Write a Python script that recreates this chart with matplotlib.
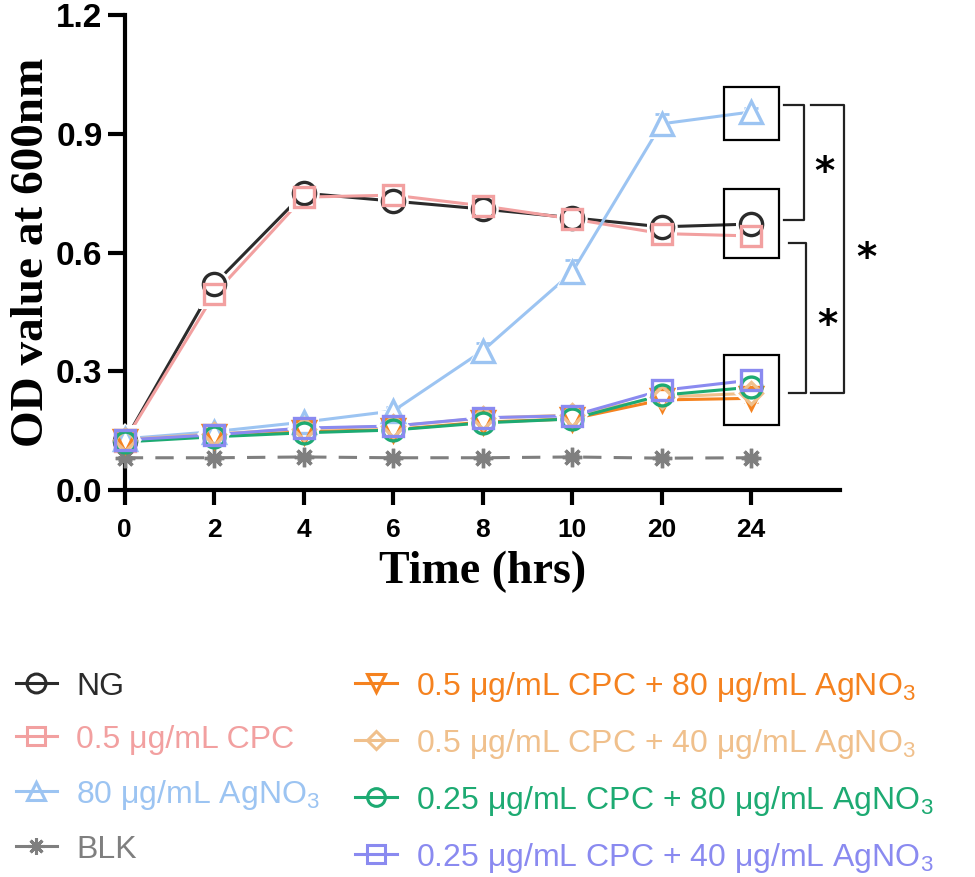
import matplotlib
matplotlib.use("Agg")
import matplotlib.pyplot as plt
from matplotlib.patches import Rectangle

# data (OD600 vs time)
times = ['0', '2', '4', '6', '8', '10', '20', '24']
ng = [0.125, 0.52, 0.75, 0.73, 0.71, 0.688, 0.665, 0.672]
ng_err = [0.01, 0.01, 0.02, 0.01, 0.01, 0.01, 0.02, 0.01]
cpc = [0.125, 0.495, 0.74, 0.745, 0.718, 0.685, 0.648, 0.642]
cpc_err = [0.01, 0.01, 0.01, 0.01, 0.01, 0.01, 0.01, 0.01]
ag = [0.13, 0.148, 0.172, 0.2, 0.352, 0.55, 0.925, 0.955]
ag_err = [0.01, 0.01, 0.01, 0.01, 0.02, 0.03, 0.025, 0.01]
blk = [0.082, 0.082, 0.084, 0.082, 0.082, 0.084, 0.081, 0.082]
blk_err = [0.005] * 8
c5_a80 = [0.125, 0.137, 0.148, 0.153, 0.172, 0.18, 0.228, 0.232]
c5_a40 = [0.128, 0.142, 0.155, 0.162, 0.182, 0.19, 0.235, 0.245]
c25_a80 = [0.122, 0.135, 0.145, 0.152, 0.17, 0.18, 0.24, 0.26]
c25_a40 = [0.127, 0.14, 0.157, 0.162, 0.183, 0.188, 0.252, 0.278]
small_err = [0.008] * 8

labels = ['NG', '0.5 μg/mL CPC', '80 μg/mL AgNO$_3$', 'BLK',
          '0.5 μg/mL CPC + 80 μg/mL AgNO$_3$', '0.5 μg/mL CPC + 40 μg/mL AgNO$_3$',
          '0.25 μg/mL CPC + 80 μg/mL AgNO$_3$', '0.25 μg/mL CPC + 40 μg/mL AgNO$_3$']
series = [ng, cpc, ag, blk, c5_a80, c5_a40, c25_a80, c25_a40]
errs = [ng_err, cpc_err, ag_err, blk_err, small_err, small_err, small_err, small_err]
colors = ['#2b2b2b', '#f2a0a0', '#9cc4f2', '#7f7f7f',
          '#f5821f', '#f0c08c', '#1daa72', '#8a8af0']
markers = ['o', 's', '^', (8, 2, 0), 'v', 'D', 'o', 's']
msizes = [16, 15, 16, 14, 16, 11, 15, 15]
styles = ['-', '-', '-', '--', '-', '-', '-', '-']

plt.rcParams['mathtext.fontset'] = 'custom'
plt.rcParams['mathtext.rm'] = 'Liberation Sans'
plt.rcParams['mathtext.it'] = 'Liberation Sans'

fig = plt.figure(figsize=(9.75, 8.77), dpi=100)
ax = fig.add_axes([0.128, 0.441, 0.734, 0.542])
x = list(range(len(times)))

handles = []
for i in range(len(series)):
    # lines and error bars first
    ax.errorbar(x, series[i], yerr=errs[i], fmt='none', ecolor=colors[i],
                elinewidth=2, capsize=5, capthick=2, zorder=2, clip_on=False)
    ax.plot(x, series[i], color=colors[i], lw=2.2, ls=styles[i],
            dashes=(6, 4) if styles[i] == '--' else (None, None),
            zorder=2, clip_on=False)
for i in range(len(series)):
    # white halo so lines stop short of markers
    ax.plot(x, series[i], ls='none', marker=markers[i], ms=msizes[i] + 6,
            mfc='white', mec='white', mew=0, zorder=3, clip_on=False)
for i in range(len(series)):
    filled = i == 3
    ax.plot(x, series[i], ls='none', marker=markers[i], ms=msizes[i],
            mfc=colors[i] if filled else 'none', mec=colors[i], mew=2.4,
            zorder=4, clip_on=False)
    h, = ax.plot([], [], color=colors[i], lw=2.2, ls='-', marker=markers[i],
                 ms=msizes[i] * 0.85, mfc=colors[i] if filled else 'none',
                 mec=colors[i], mew=2.2)
    handles.append(h)

ax.set_xlim(0, 8)
ax.set_ylim(0, 1.2)
ax.set_xticks(x)
ax.set_xticklabels(times)
ax.set_yticks([0, 0.3, 0.6, 0.9, 1.2])
ax.set_yticklabels(['0.0', '0.3', '0.6', '0.9', '1.2'])
for s in ['top', 'right']:
    ax.spines[s].set_visible(False)
for s in ['left', 'bottom']:
    ax.spines[s].set_linewidth(3)
ax.tick_params(axis='y', length=12, width=3, labelsize=24, pad=4)
ax.tick_params(axis='x', length=11, width=3, labelsize=19, pad=9)
for t in ax.get_xticklabels() + ax.get_yticklabels():
    t.set_fontfamily('Liberation Sans')
    t.set_fontweight('bold')
ax.set_ylabel('OD value at 600nm', fontfamily='Liberation Serif',
              fontweight='bold', fontsize=34, labelpad=2)
ax.set_xlabel('Time (hrs)', fontfamily='Liberation Serif',
              fontweight='bold', fontsize=33, labelpad=6)

# significance boxes around the 24 h points
last = x[-1]
boxes = [(1.018, 0.884), (0.760, 0.586), (0.341, 0.164)]
for top, bot in boxes:
    ax.add_patch(Rectangle((last - 0.30, bot), 0.61, top - bot, fill=False,
                           ec='black', lw=1.6, zorder=5, clip_on=False))

def bracket(y1, y2, x1, x2, sx, sy):
    ax.plot([x1, x2, x2, x1], [y1, y1, y2, y2], color='#222222', lw=1.6,
            clip_on=False, zorder=5)
    ax.text(sx, sy, '*', fontsize=28, fontweight='bold', ha='center',
            va='center', fontfamily='DejaVu Sans')

bracket(0.973, 0.682, 7.37, 7.59, 7.82, 0.80)
bracket(0.624, 0.245, 7.42, 7.62, 7.85, 0.415)
bracket(0.973, 0.245, 7.67, 8.04, 8.29, 0.585)

leg = fig.legend(handles, labels,
                 ncol=2, loc='upper left', bbox_to_anchor=(-0.007, 0.262),
                 frameon=False, labelcolor='linecolor', borderpad=0.2,
                 prop={'family': 'Liberation Sans', 'size': 23},
                 handlelength=1.3, handletextpad=0.6, labelspacing=0.72,
                 columnspacing=1.1)

fig.savefig('out.png', dpi=100)
